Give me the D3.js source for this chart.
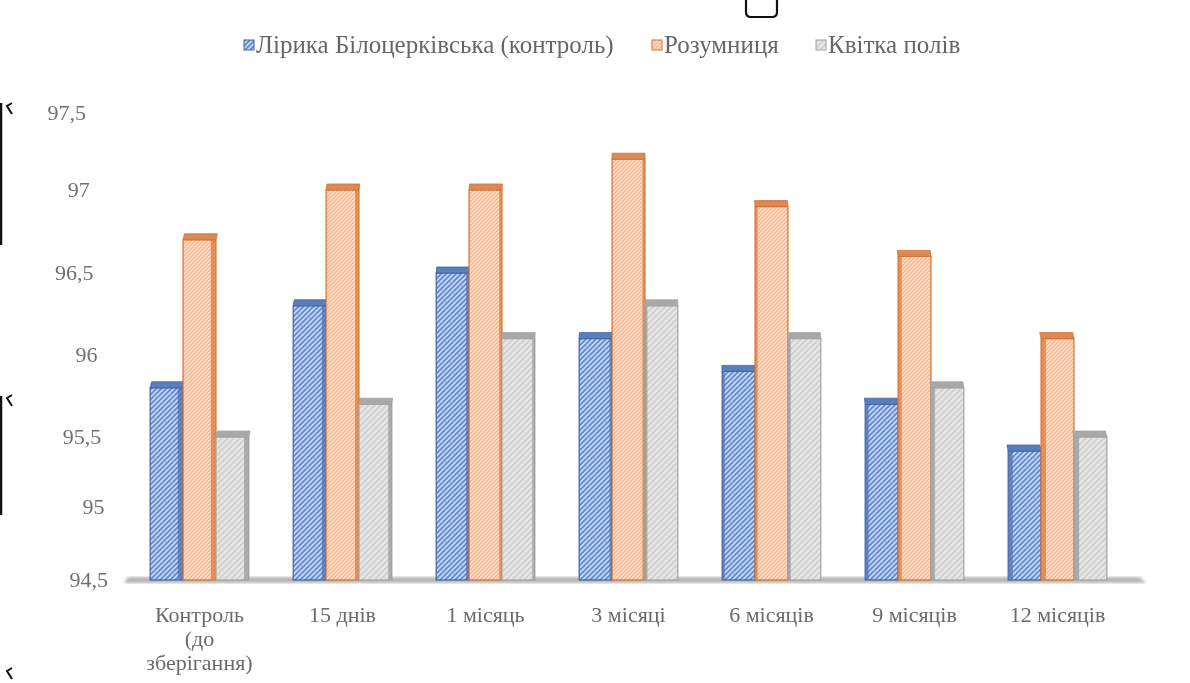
<!DOCTYPE html>
<html>
<head>
<meta charset="utf-8">
<script src="https://cdn.jsdelivr.net/npm/d3@7"></script>
</head>
<body style="margin:0;background:#fff">
<svg id="chart" width="1190" height="683" style="display:block"></svg>
<script>
// Storage periods (category axis)
const categories = ["Контроль\n(до\nзберігання)", "15 днів", "1 місяць", "3 місяці", "6 місяців", "9 місяців", "12 місяців"];
// Varieties (series)
const seriesNames = ["Лірика Білоцерківська (контроль)", "Розумниця", "Квітка полів"];
// Values per variety, one per storage period
const liryka   = [95.8, 96.3, 96.5, 96.1, 95.9, 95.7, 95.4];
const rozumnyc = [96.7, 97.0, 97.0, 97.2, 96.9, 96.6, 96.1];
const kvitka   = [95.5, 95.7, 96.1, 96.3, 96.1, 95.8, 95.5];
// Value axis ticks
const yTicks = [94.5, 95, 95.5, 96, 96.5, 97, 97.5];
const yTickLabels = ["94,5", "95", "95,5", "96", "96,5", "97", "97,5"];

const seriesValues = [liryka, rozumnyc, kvitka];
const SERIF = '"Liberation Serif"';

const svg = d3.select("#chart");
const defs = svg.append("defs");

// Hatch patterns for the three varieties
const styles = [
  { id: "pat0", base: "#c4d6f0", stripe: "#6289cf", size: 5, sw: 1.7, edge: "#3f62a8", top: "#5a7fb8", side: "#4f72b0" },
  { id: "pat1", base: "#fbdac3", stripe: "#f4b48e", size: 4, sw: 1.2, edge: "#d4702c", top: "#d98a58", side: "#e07a38" },
  { id: "pat2", base: "#e4e4e4", stripe: "#d0d0d0", size: 6, sw: 1.6, edge: "#a3a3a3", top: "#a8a8a8", side: "#9a9a9a" }
];
styles.forEach(s => {
  const p = defs.append("pattern").attr("id", s.id).attr("patternUnits", "userSpaceOnUse")
    .attr("width", s.size).attr("height", s.size);
  p.append("rect").attr("width", s.size).attr("height", s.size).attr("fill", s.base);
  p.append("path")
    .attr("d", `M${-1},${1} L${1},${-1} M0,${s.size} L${s.size},0 M${s.size - 1},${s.size + 1} L${s.size + 1},${s.size - 1}`)
    .attr("stroke", s.stripe).attr("stroke-width", s.sw);
});
defs.append("filter").attr("id", "soft").append("feGaussianBlur").attr("stdDeviation", 1.6);
defs.append("filter").attr("id", "txt").append("feGaussianBlur").attr("stdDeviation", 0.4);

// Scales: value axis follows the tick rows of the chart wall
const y = d3.scaleLinear().domain(yTicks).range([580, 507, 437, 355, 273, 190, 113]);
const x0 = d3.scaleBand().domain(categories).range([128, 1129]).paddingInner(0.31).paddingOuter(0.155);
const x1 = d3.scaleBand().domain(d3.range(seriesNames.length)).range([0, x0.bandwidth()]);

// Floor of the plot
const floorY = y(94.5);
svg.append("path")
  .attr("d", `M128,${floorY - 3} L1140,${floorY - 3} L1146,${floorY + 3} L124,${floorY + 3} Z`)
  .attr("fill", "#b5b5b5").attr("filter", "url(#soft)");

// Value axis labels, slanted with the wall
const yAxisG = svg.append("g").attr("filter", "url(#txt)");
yTicks.forEach((t, i) => {
  const ty = y(t);
  const rx = 86 + (ty - 113) / (580 - 113) * 22;
  yAxisG.append("text").attr("x", rx).attr("y", ty + 7).attr("text-anchor", "end")
    .style("font-family", SERIF).style("font-size", "22px").attr("fill", "#707070").text(yTickLabels[i]);
});

// Bars
const barsG = svg.append("g");
categories.forEach((c, ci) => {
  seriesValues.forEach((vals, si) => {
    const s = styles[si];
    const bx = x0(c) + x1(si);
    const bw = x1.bandwidth();
    const top = y(vals[ci]);
    const base = floorY;
    const cx = bx + bw / 2;
    const shift = (640 - cx) * 0.008; // visible side depth
    const g = barsG.append("g");
    // front face
    g.append("rect").attr("x", bx).attr("y", top).attr("width", bw).attr("height", base - top)
      .attr("fill", `url(#${s.id})`).attr("stroke", s.edge).attr("stroke-width", 1.2);
    // visible side face
    const sw = Math.max(2.5, Math.abs(shift) + 1.5);
    const sx = shift >= 0 ? bx + bw - sw : bx;
    g.append("rect").attr("x", sx).attr("y", top).attr("width", sw).attr("height", base - top)
      .attr("fill", s.side).attr("opacity", 0.75);
    // top face
    g.append("path")
      .attr("d", `M${bx},${top} L${bx + bw},${top} L${bx + bw + shift * 0.4},${top - 6} L${bx + shift * 0.4},${top - 6} Z`)
      .attr("fill", s.top).attr("stroke", s.edge).attr("stroke-width", 0.8);
  });
});

// Category labels
const catG = svg.append("g").attr("filter", "url(#txt)");
categories.forEach(c => {
  const lines = c.split("\n");
  const t = catG.append("text").attr("text-anchor", "middle")
    .style("font-family", SERIF).style("font-size", "22px").attr("fill", "#6a6a6a");
  lines.forEach((ln, i) => {
    t.append("tspan").attr("x", x0(c) + x0.bandwidth() / 2).attr("y", 622 + i * 24).text(ln);
  });
});

// Legend
const legendX = [244, 652, 816];
const legendG = svg.append("g").attr("filter", "url(#txt)");
seriesNames.forEach((n, i) => {
  const s = styles[i];
  legendG.append("rect").attr("x", legendX[i]).attr("y", 40).attr("width", 10).attr("height", 10)
    .attr("fill", `url(#${s.id})`).attr("stroke", s.edge).attr("stroke-width", 1);
  legendG.append("text").attr("x", legendX[i] + 12).attr("y", 53)
    .style("font-family", SERIF).style("font-size", "25px").attr("fill", "#666").text(n);
});

// Fragments at the page edges
const edge = svg.append("g").attr("stroke", "#111").attr("fill", "none");
edge.append("path").attr("d", "M746,0 L746,12 Q746,17 751,17 L772,17 Q777,17 777,12 L777,0").attr("stroke-width", 2.2);
edge.append("line").attr("x1", 1).attr("y1", 103).attr("x2", 1).attr("y2", 245).attr("stroke-width", 2.5);
edge.append("line").attr("x1", 1).attr("y1", 396).attr("x2", 1).attr("y2", 515).attr("stroke-width", 2.5);
[103, 395, 668].forEach(yy => {
  edge.append("path").attr("d", `M12,${yy} L7,${yy + 3} L12,${yy + 11}`).attr("stroke-width", 2);
});
</script>
</body>
</html>
